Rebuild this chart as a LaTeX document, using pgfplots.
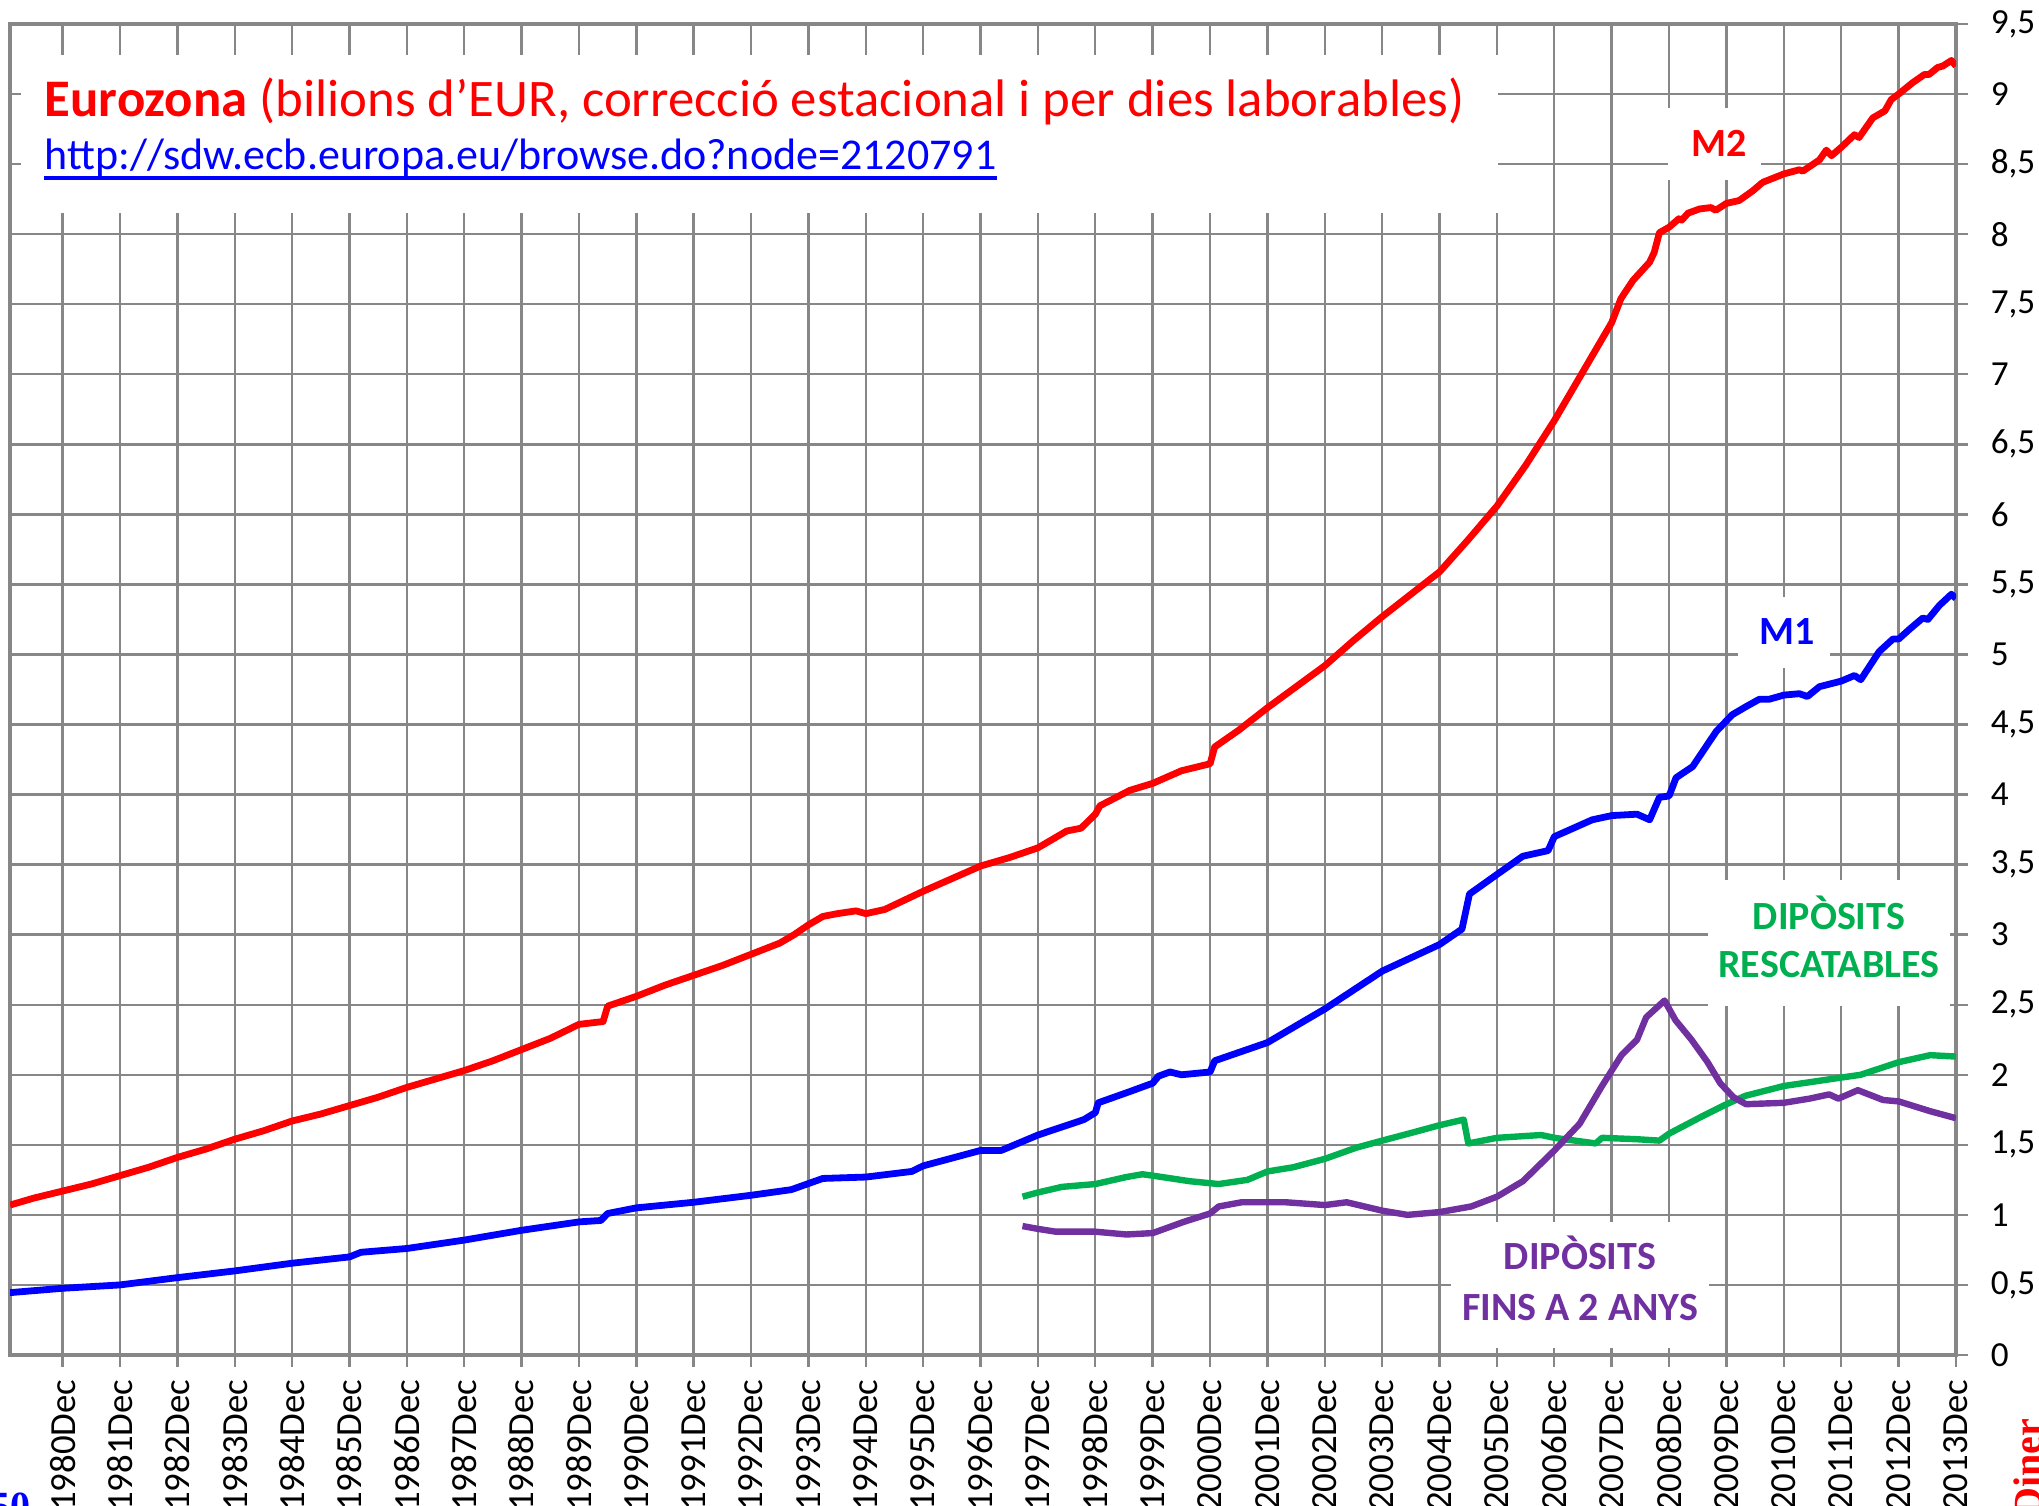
\documentclass[border=0pt]{standalone}
\usepackage{fontspec}
\setmainfont{Carlito}
\newfontfamily\serifbold{Liberation Serif}
\usepackage{pgfplots}
\usepackage{pgfplotstable}
\pgfplotsset{compat=1.18}
\definecolor{gridgray}{HTML}{878787}
\definecolor{dgreen}{HTML}{00B050}
\definecolor{dpurple}{HTML}{7030A0}

% x = year of the December tick (Dec Y = Y), values in bilions d'EUR
\pgfplotstableread{
x y
1979.083 1.07
1979.5 1.12
1980 1.17
1980.5 1.22
1981 1.28
1981.5 1.34
1982 1.41
1982.5 1.47
1983 1.54
1983.5 1.60
1984 1.67
1984.5 1.72
1985 1.78
1985.5 1.84
1986 1.91
1986.5 1.97
1987 2.03
1987.5 2.10
1988 2.18
1988.5 2.26
1989 2.36
1989.42 2.38
1989.5 2.49
1990 2.56
1990.5 2.64
1991 2.71
1991.5 2.78
1992 2.86
1992.5 2.94
1992.75 3.00
1993 3.07
1993.25 3.13
1993.5 3.15
1993.83 3.17
1994 3.15
1994.33 3.18
1995 3.31
1995.5 3.40
1996 3.49
1996.5 3.55
1997 3.62
1997.5 3.74
1997.75 3.76
1998 3.86
1998.08 3.92
1998.6 4.03
1999 4.08
1999.5 4.17
2000 4.22
2000.08 4.34
2000.5 4.46
2001 4.62
2001.5 4.77
2002 4.92
2002.5 5.10
2003 5.27
2003.5 5.43
2004 5.59
2004.5 5.82
2005 6.06
2005.5 6.35
2006 6.67
2006.5 7.02
2007 7.37
2007.16 7.54
2007.37 7.67
2007.66 7.80
2007.74 7.87
2007.83 8.01
2008 8.05
2008.17 8.11
2008.22 8.10
2008.33 8.15
2008.53 8.18
2008.73 8.19
2008.81 8.17
2009 8.22
2009.22 8.24
2009.46 8.31
2009.63 8.37
2010 8.43
2010.27 8.46
2010.33 8.45
2010.62 8.53
2010.74 8.60
2010.83 8.56
2011 8.62
2011.23 8.71
2011.31 8.69
2011.55 8.83
2011.76 8.88
2011.87 8.96
2012 9.00
2012.24 9.08
2012.45 9.14
2012.53 9.14
2012.68 9.19
2012.77 9.20
2012.92 9.24
2013 9.20
}\mtwo

\pgfplotstableread{
x y
1979.083 0.445
1980 0.476
1981 0.50
1982 0.552
1983 0.60
1984 0.655
1985 0.70
1985.2 0.733
1986 0.76
1987 0.82
1988 0.89
1989 0.95
1989.38 0.96
1989.5 1.01
1990 1.05
1991 1.09
1992 1.14
1992.7 1.18
1993.25 1.26
1994 1.27
1994.8 1.31
1995 1.35
1996 1.46
1996.36 1.46
1997 1.57
1997.8 1.68
1998 1.73
1998.05 1.80
1998.6 1.88
1999 1.94
1999.1 1.99
1999.3 2.02
1999.5 2.00
2000 2.02
2000.08 2.10
2001 2.23
2002 2.47
2003 2.74
2004 2.93
2004.39 3.04
2004.52 3.29
2005 3.43
2005.45 3.56
2005.89 3.60
2006 3.70
2006.66 3.82
2007 3.85
2007.44 3.86
2007.66 3.82
2007.83 3.98
2008 3.99
2008.12 4.12
2008.41 4.20
2008.82 4.45
2009.1 4.57
2009.35 4.63
2009.57 4.68
2009.74 4.68
2010 4.71
2010.27 4.72
2010.41 4.70
2010.62 4.77
2011 4.81
2011.23 4.85
2011.34 4.82
2011.66 5.02
2011.9 5.11
2012 5.11
2012.19 5.18
2012.42 5.26
2012.51 5.25
2012.71 5.35
2012.92 5.43
2013 5.40
}\mone

\pgfplotstableread{
x y
1996.73 1.13
1997 1.16
1997.42 1.20
1998 1.22
1998.54 1.27
1998.82 1.29
1999 1.28
1999.65 1.24
2000.15 1.22
2000.65 1.25
2001 1.31
2001.45 1.34
2002 1.40
2002.55 1.48
2003 1.53
2003.55 1.59
2004 1.64
2004.42 1.68
2004.5 1.51
2005 1.55
2005.77 1.57
2006 1.55
2006.72 1.51
2006.83 1.55
2007.44 1.54
2007.83 1.53
2008 1.58
2008.56 1.70
2009 1.79
2009.33 1.85
2010 1.92
2011 1.98
2011.34 2.00
2012 2.09
2012.55 2.14
2013 2.13
}\rescat

\pgfplotstableread{
x y
1996.73 0.92
1997 0.90
1997.31 0.88
1998 0.88
1998.54 0.86
1999 0.87
1999.54 0.95
2000 1.01
2000.15 1.06
2000.55 1.09
2001.32 1.09
2002 1.07
2002.38 1.09
2003 1.03
2003.44 1.00
2004 1.02
2004.55 1.06
2005 1.13
2005.45 1.24
2006 1.46
2006.44 1.65
2006.83 1.92
2007.17 2.14
2007.44 2.25
2007.6 2.41
2007.92 2.53
2008.11 2.39
2008.39 2.25
2008.67 2.09
2008.89 1.94
2009.12 1.84
2009.34 1.79
2010 1.80
2010.45 1.83
2010.79 1.86
2010.95 1.83
2011.29 1.89
2011.73 1.82
2012 1.81
2012.55 1.74
2013 1.69
}\fins

\begin{document}
\begin{tikzpicture}
\begin{axis}[
  scale only axis, width=486.5pt, height=332.75pt,
  xmin=1979.0833, xmax=2013, ymin=0, ymax=9.5,
  xtick={1980,...,2013},
  xticklabels={1980Dec,1981Dec,1982Dec,1983Dec,1984Dec,1985Dec,1986Dec,1987Dec,1988Dec,1989Dec,1990Dec,1991Dec,1992Dec,1993Dec,1994Dec,1995Dec,1996Dec,1997Dec,1998Dec,1999Dec,2000Dec,2001Dec,2002Dec,2003Dec,2004Dec,2005Dec,2006Dec,2007Dec,2008Dec,2009Dec,2010Dec,2011Dec,2012Dec,2013Dec},
  ytick={0,0.5,1,1.5,2,2.5,3,3.5,4,4.5,5,5.5,6,6.5,7,7.5,8,8.5,9,9.5},
  /pgf/number format/use comma,
  /pgf/number format/fixed,
  /pgf/number format/precision=1,
  /pgf/number format/assume math mode=true,
  xtick pos=left, ytick pos=right, yticklabel pos=right,
  tick align=outside, major tick length=3pt,
  axis line style={gridgray, line width=0.9pt},
  grid=major, major grid style={gridgray, line width=0.6pt},
  tick style={gridgray, line width=0.6pt},
  xticklabel style={font=\fontsize{9.2}{11}\selectfont, rotate=90, anchor=east, inner sep=0pt, xshift=-3pt},
  yticklabel style={font=\fontsize{8.8}{10}\selectfont, anchor=west, inner sep=0pt, xshift=5.5pt},
]
\addplot[red, line width=1.7pt, line join=round] table {\mtwo};
\addplot[blue, line width=1.7pt, line join=round] table {\mone};
\addplot[dgreen, line width=1.6pt, line join=round] table {\rescat};
\addplot[dpurple, line width=1.6pt, line join=round] table {\fins};
\end{axis}

% annotations in pixel units of the reference picture
\begin{scope}[x=0.25pt, y=-0.25pt, xshift=-2.5pt, yshift=338.75pt]
  \fill[white] (21,55) rectangle (1498,213);
  \fill[white] (1668,108) rectangle (1761,180);
  \fill[white] (1738,597) rectangle (1830,668);
  \fill[white] (1708,880) rectangle (1950,1006);
  \fill[white] (1451,1222) rectangle (1709,1348);

  \node[anchor=base west, inner sep=0pt, text=red, font=\fontsize{13.2}{15}\selectfont] at (44,117)
    {\textbf{Eurozona} (bilions d’EUR, correcció estacional i per dies laborables)};
  \node[anchor=base west, inner sep=0pt, text=blue, font=\fontsize{11}{13}\selectfont] (url) at (44,170)
    {http://sdw.ecb.europa.eu/browse.do?node=2120791};
  \draw[blue, line width=0.8pt] ([yshift=-2pt]url.base west) -- ([yshift=-2pt]url.base east);

  \node[anchor=base, inner sep=0pt, text=red, font=\bfseries\fontsize{10}{12}\selectfont] at (1719,157) {M2};
  \node[anchor=base, inner sep=0pt, text=blue, font=\bfseries\fontsize{10}{12}\selectfont] at (1787,645) {M1};
  \node[anchor=base, inner sep=0pt, text=dgreen, font=\bfseries\fontsize{10}{12}\selectfont] at (1829,930) {DIPÒSITS};
  \node[anchor=base, inner sep=0pt, text=dgreen, font=\bfseries\fontsize{10}{12}\selectfont] at (1829,978) {RESCATABLES};
  \node[anchor=base, inner sep=0pt, text=dpurple, font=\bfseries\fontsize{10}{12}\selectfont] at (1580,1270) {DIPÒSITS};
  \node[anchor=base, inner sep=0pt, text=dpurple, font=\bfseries\fontsize{10}{12}\selectfont] at (1580,1321) {FINS A 2 ANYS};

  \node[anchor=north east, inner sep=0pt, text=blue, font=\serifbold\bfseries\fontsize{10}{12}\selectfont] at (31,1492) {50};
  \node[rotate=90, anchor=base east, inner sep=0pt, text=red, font=\serifbold\bfseries\fontsize{10}{12}\selectfont] at (2041,1418) {Diner};

  \pgfresetboundingbox
  \path[use as bounding box] (0,0) rectangle (2039,1506);
\end{scope}
\end{tikzpicture}
\end{document}
